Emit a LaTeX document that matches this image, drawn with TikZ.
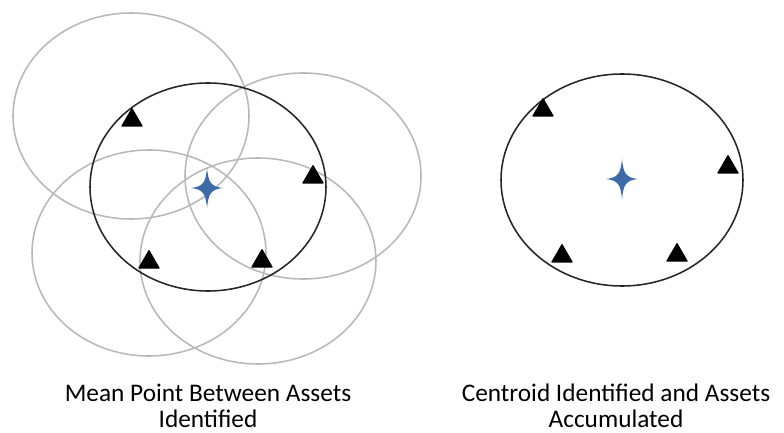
\documentclass[tikz,border=0pt]{standalone}
\usepackage{fontspec}
\setmainfont{Carlito}
\usetikzlibrary{shapes.geometric}

\definecolor{ring_gray}{HTML}{B8B8B8}
\definecolor{centroid_blue}{HTML}{3D6BA8}

% four-point centroid mark, centred on a coordinate
\newcommand{\centroidmark}[1]{%
  \fill[centroid_blue, shift={(#1)}]
    (0,-20) .. controls (1.5,-5) and (4,-1.5) .. (16,0)
            .. controls (4,1.5) and (1.5,5) .. (0,20)
            .. controls (-1.5,5) and (-4,1.5) .. (-16,0)
            .. controls (-4,-1.5) and (-1.5,-5) .. (0,-20) -- cycle;}

\begin{document}
\begin{tikzpicture}[x=0.025cm, y=-0.025cm, every node/.style={font=\fontsize{18}{18}\selectfont}]

    % Styles
    \tikzstyle{range_ring} = [draw=ring_gray, line width=1.1pt]
    \tikzstyle{cluster_ring} = [draw=black!85, line width=1.1pt]
    \tikzstyle{asset} = [regular polygon, regular polygon sides=3, fill=black, draw=black,
        line join=round, line width=0.8pt, inner sep=0pt, outer sep=0pt,
        minimum size=0.58cm, anchor=south]
    \tikzstyle{caption} = [align=center, anchor=base, inner sep=0pt]

    \useasboundingbox (0,0) rectangle (784,433);

    % Left: asset ranges overlapping around the mean point
    \draw[range_ring] (131,116) ellipse [x radius=118, y radius=103];
    \draw[range_ring] (303,176) ellipse [x radius=118, y radius=103];
    \draw[range_ring] (149,253) ellipse [x radius=117, y radius=103];
    \draw[range_ring] (258,261) ellipse [x radius=118, y radius=103];
    \draw[cluster_ring] (208,187) ellipse [x radius=118, y radius=104];

    \node[asset] (a1) at (132,126) {};
    \node[asset] (a2) at (313,183) {};
    \node[asset] (a3) at (149,268) {};
    \node[asset] (a4) at (262,267) {};

    \coordinate (mean) at (207,188);
    \centroidmark{mean}

    % Right: centroid with the assets accumulated
    \draw[cluster_ring] (622,180) ellipse [x radius=121, y radius=106];

    \node[asset] (b1) at (543,116) {};
    \node[asset] (b2) at (728,173) {};
    \node[asset] (b3) at (562,262) {};
    \node[asset] (b4) at (677,261) {};

    \coordinate (centroid) at (622,179);
    \centroidmark{centroid}

    % Captions (base = last line)
    \node[caption] (cap_left) at (208,427) {Mean Point Between Assets\\Identified};
    \node[caption] (cap_right) at (616,427) {Centroid Identified and Assets\\Accumulated};

\end{tikzpicture}
\end{document}
